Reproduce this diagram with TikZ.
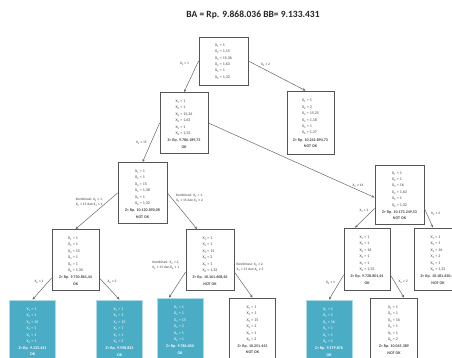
\documentclass[tikz,border=0pt]{standalone}
\usepackage{fontspec}
\setmainfont{Carlito}
\usetikzlibrary{
    arrows.meta,
    positioning,
    calc
}
\definecolor{framegray}{RGB}{85,85,85}
\definecolor{leafblue}{RGB}{75,172,198}
\definecolor{textgray}{RGB}{70,70,70}
\newcommand{\xvals}[6]{\begin{tabular}{@{}l@{}}X\textsubscript{1} = #1\\X\textsubscript{2} = #2\\X\textsubscript{3} = #3\\X\textsubscript{4} = #4\\X\textsubscript{5} = #5\\X\textsubscript{6} = #6\end{tabular}}
\newcommand{\zval}[2]{\\[1.5pt]\textbf{Z= Rp. #1}\\\textbf{#2}}
\tikzset{
    % Boxes
    box/.style={draw=framegray,line width=.8pt,fill=white,text=textgray,align=center,
        inner sep=0pt,minimum width=48pt,minimum height=61pt},
    leaf/.style={box,fill=leafblue,draw=leafblue!45!white,text=white,minimum width=46pt,minimum height=62pt},
    title/.style={font=\bfseries\fontsize{9.5}{11}\selectfont,text=black!85},
    lbl/.style={font=\fontsize{3.6}{4.6}\selectfont,text=black!75,inner sep=1pt,align=left},
    %
    % Arrows
    arrow tip/.tip={Stealth[length=3pt,width=2.6pt]},
    arr/.style={->,>={arrow tip},draw=black!60,line width=.5pt}
}
\tikzstyle{every node}=[font=\fontsize{4}{6.4}\selectfont]

\begin{document}
\begin{tikzpicture}[x=1pt,y=-1pt]
    \useasboundingbox (0,0) rectangle (452,358);
    \clip (0,0) rectangle (452,358);
    \node[title] (judul) at (253,15) {BA = Rp. 9.868.036 BB= 9.133.431};
    % level 0 and 1
    \node[box,minimum height=48pt,minimum width=49pt] (akar) at (223.5,61) {\xvals{1}{1,15}{15,36}{1,63}{1}{1,32}};
    \node[box] (n2) at (184,123) {\xvals{1}{1}{15,26}{1,63}{1}{1,32}\zval{9.786.189,73}{OK}};
    \node[box,minimum height=63pt,minimum width=47pt] (n3) at (310.5,122.5) {\xvals{1}{2}{15,25}{1,18}{1}{1,37}\zval{10.242.894,73}{NOT OK}};
    % level 2
    \node[box,minimum width=49pt] (n4) at (142.5,193) {\xvals{1}{1}{15}{1,38}{1}{1,32}\zval{10.120.890,08}{NOT OK}};
    \node[box,minimum height=59pt,minimum width=49pt] (n5) at (399.5,194.5) {\xvals{1}{1}{16}{1,63}{1}{1,32}\zval{10.173.249,53}{NOT OK}};
    % level 3
    \node[box,minimum width=47pt] (n6) at (75.5,260) {\xvals{1}{1}{15}{1}{1}{1,30}\zval{9.730.861,44}{OK}};
    \node[box] (n7) at (210,260) {\xvals{1}{1}{15}{2}{1}{1,32}\zval{10.161.608,46}{NOT OK}};
    \node[box,minimum height=62pt,minimum width=46pt] (n8) at (367,259) {\xvals{1}{1}{16}{1}{1}{1,32}\zval{9.728.801,44}{OK}};
    \node[box,minimum height=62pt] (n9) at (438,259) {\xvals{1}{1}{16}{2}{1}{1,32}\zval{10.181.630,46}{NOT OK}};
    % leaves
    \node[leaf] (d1) at (32.5,331) {\xvals{1}{1}{15}{1}{1}{1}\zval{9.133.431}{OK}};
    \node[leaf] (d2) at (119.5,331) {\xvals{1}{1}{15}{1}{1}{2}\zval{9.598.823}{OK}};
    \node[leaf] (d3) at (180,329) {\xvals{1}{1}{15}{2}{1}{1}\zval{9.786.050}{OK}};
    \node[box,minimum width=46pt,minimum height=62pt] (d4) at (252.5,329) {\xvals{1}{1}{15}{2}{1}{2}\zval{10.251.443}{NOT OK}};
    \node[leaf] (d5) at (329,331) {\xvals{1}{1}{16}{1}{1}{1}\zval{9.579.876}{OK}};
    \node[box,minimum width=47pt,minimum height=62pt] (d6) at (394,329) {\xvals{1}{1}{16}{1}{1}{2}\zval{10.045.389}{NOT OK}};
    % branches
    \draw[arr] (akar.west) -- node[lbl,left=7pt,pos=.1] (c1) {X\textsubscript{2} ≤ 1} (n2.north);
    \draw[arr] (akar.east) -- node[lbl,above=2pt,pos=.3] (c2) {X\textsubscript{2} ≥ 2} ([xshift=-5pt]n3.north);
    \draw[arr] (n2.west) -- node[lbl,left=3pt,pos=.5] (c3) {X\textsubscript{3} ≤ 15} (n4.north);
    \draw[arr] (n2.east) -- node[lbl,above=1pt,pos=.9] (c4) {X\textsubscript{3} ≥ 16} ([yshift=-3pt]n5.west);
    \draw[arr] (n4.west) -- node[lbl,left=3pt,pos=.25] (c5) {Kombinasi: X\textsubscript{2} ≤ 1,\\X\textsubscript{3} ≤ 15 dan X\textsubscript{4} ≤ 1} (n6.north);
    \draw[arr] (n4.east) -- node[lbl,right=3pt,pos=.15] (c6) {Kombinasi: X\textsubscript{2} ≤ 1,\\X\textsubscript{3} ≤ 15 dan X\textsubscript{4} ≥ 2} ([xshift=-13pt]n7.north);
    \draw[arr] ([yshift=-18pt]n6.west) -- node[lbl,left=3pt,pos=.2] (c7) {X\textsubscript{6} ≤ 1} (d1.north);
    \draw[arr] ([yshift=-18pt]n6.east) -- node[lbl,right=3pt,pos=.2] (c8) {X\textsubscript{6} ≥ 2} (d2.north);
    \draw[arr] ([yshift=-12pt]n7.west) -- node[lbl,left=5pt,pos=0,yshift=7pt] (c9) {Kombinasi: X\textsubscript{4} ≥ 2,\\X\textsubscript{3} ≤ 15 dan X\textsubscript{6} ≤ 1} ([xshift=-11pt]d3.north);
    \draw[arr] ([yshift=-12pt]n7.east) -- node[lbl,right=1pt,pos=0,yshift=5pt] (c10) {Kombinasi: X\textsubscript{4} ≥ 2,\\X\textsubscript{3} ≤ 15 dan X\textsubscript{6} ≥ 2} (d4.north);
    \draw[arr] ([yshift=-14pt]n5.west) -- node[lbl,left=3pt,pos=.1] (c11) {X\textsubscript{4} ≤ 1} ([xshift=-12pt]n8.north);
    \draw[arr] ([yshift=-14pt]n5.east) -- node[lbl,right=3pt,pos=.3] (c12) {X\textsubscript{4} ≥ 2} ([xshift=-5pt]n9.north);
    \draw[arr] ([yshift=-16pt]n8.west) -- node[lbl,left=3pt,pos=.3] (c13) {X\textsubscript{6} ≤ 1} (d5.north);
    \draw[arr] ([yshift=-16pt]n8.east) -- node[lbl,right=3pt,pos=.3] (c14) {X\textsubscript{6} ≥ 2} ([xshift=10pt]d6.north);
\end{tikzpicture}
\end{document}
